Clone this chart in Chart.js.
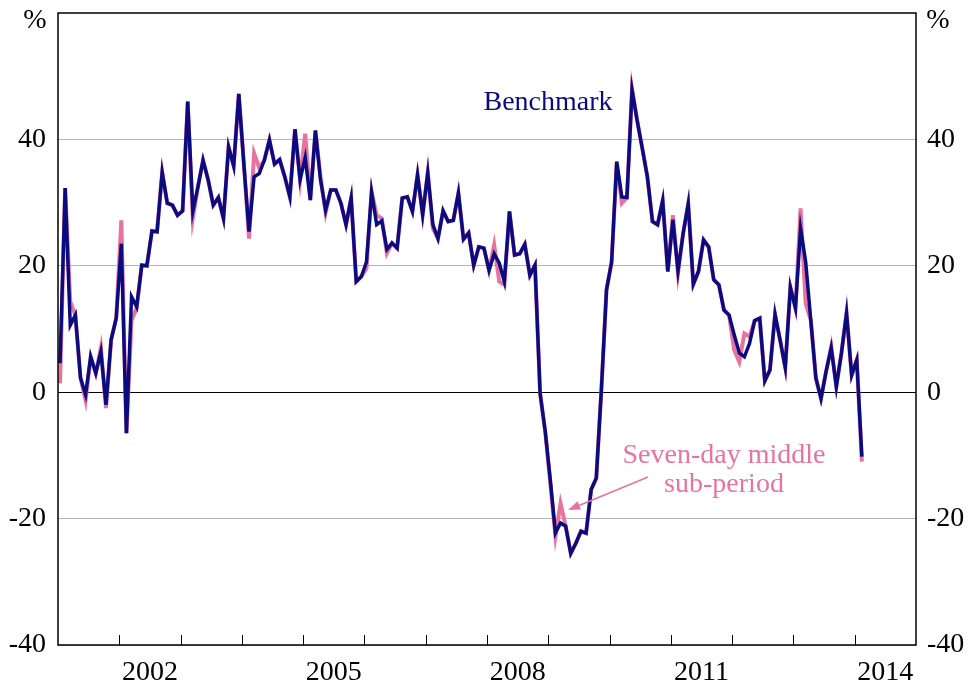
<!DOCTYPE html>
<html>
<head>
<meta charset="utf-8">
<script src="https://cdn.jsdelivr.net/npm/chart.js@4/dist/chart.umd.min.js"></script>
<style>
  html, body { margin: 0; padding: 0; background: #fff; }
  #wrap { width: 971px; height: 686px; }
</style>
</head>
<body>
<div id="wrap"><canvas id="chart" width="971" height="686"></canvas></div>
<script>
// --- DATA ---
// monthly observations, first one is January 2001
const startYear = 2001;

const benchmark = [
  4.6, 32.3, 10.6, 12.2, 2.3, -0.4, 5.6, 3.0, 6.4, -2.0, 8.3, 11.7,
  23.5, -6.5, 15.1, 13.5, 20.1, 20.0, 25.5, 25.4, 34.8, 29.9, 29.6, 28.0,
  28.7, 46.0, 28.6, 32.5, 36.7, 33.6, 29.6, 30.8, 27.5, 38.8, 35.8, 47.2,
  36.0, 25.4, 34.1, 34.6, 36.7, 39.9, 36.1, 36.8, 34.1, 30.9, 41.6, 33.6,
  37.1, 30.4, 41.4, 33.6, 28.8, 32.0, 32.0, 29.9, 26.5, 30.7, 17.5, 18.3,
  20.6, 31.7, 26.5, 27.1, 22.6, 23.6, 22.8, 30.7, 30.9, 28.6, 34.4, 28.1,
  34.7, 26.5, 24.3, 28.7, 27.0, 27.2, 31.5, 24.2, 25.2, 20.1, 23.0, 22.8,
  19.3, 21.9, 20.4, 17.5, 28.6, 21.7, 21.9, 23.4, 18.5, 20.1, -0.2, -6.2,
  -13.9, -22.3, -20.7, -21.2, -25.5, -23.9, -22.0, -22.3, -15.4, -13.6, 0.5, 16.2,
  20.6, 36.5, 30.9, 30.8, 47.8, 43.0, 38.6, 34.1, 27.0, 26.5, 30.3, 19.1,
  27.3, 19.2, 25.1, 29.8, 17.1, 19.1, 24.1, 23.0, 17.8, 17.0, 13.0, 12.2,
  9.1, 6.2, 5.6, 7.7, 11.3, 11.7, 1.8, 3.5, 12.3, 8.2, 3.9, 16.6,
  13.3, 25.9, 20.6, 11.4, 2.2, -1.0, 3.3, 7.0, 0.9, 6.2, 12.5, 2.7,
  5.1, -10.2
];

const sevenDay = [
  1.4, 32.3, 14.3, 12.2, 2.3, -1.3, 5.6, 3.0, 7.0, -2.5, 8.3, 11.7,
  27.2, -6.5, 11.4, 13.3, 20.1, 20.0, 25.5, 25.4, 34.8, 29.9, 29.6, 28.0,
  28.7, 46.0, 27.5, 32.5, 36.7, 33.6, 29.6, 30.8, 27.5, 38.8, 35.8, 47.2,
  36.0, 24.3, 37.8, 35.5, 36.7, 39.9, 36.1, 36.8, 34.1, 30.9, 41.6, 33.6,
  40.9, 30.4, 41.4, 34.1, 28.4, 32.0, 32.0, 29.9, 26.5, 30.7, 17.5, 18.3,
  19.6, 31.7, 28.0, 27.5, 22.0, 23.6, 22.8, 30.7, 30.9, 28.6, 34.4, 28.1,
  34.7, 25.9, 24.3, 28.7, 27.0, 27.2, 31.5, 24.2, 25.2, 20.1, 23.0, 22.8,
  19.3, 23.3, 17.5, 17.0, 28.6, 21.7, 21.9, 23.4, 18.5, 20.1, -0.2, -6.2,
  -14.5, -22.8, -17.6, -21.2, -25.5, -23.9, -22.0, -22.3, -15.4, -13.6, 0.5, 16.2,
  20.6, 36.2, 29.9, 30.8, 48.0, 43.0, 38.6, 34.1, 27.0, 26.5, 30.3, 19.1,
  28.0, 18.8, 25.1, 29.8, 17.1, 19.1, 24.1, 23.0, 17.8, 17.0, 13.0, 12.2,
  6.7, 4.8, 9.3, 8.8, 11.3, 11.7, 1.8, 3.5, 12.3, 8.2, 3.9, 16.6,
  13.3, 29.1, 14.0, 11.4, 2.2, -1.0, 3.3, 7.2, 0.9, 6.2, 12.5, 2.7,
  5.1, -11.0
];

const labelYears = [2002, 2005, 2008, 2011, 2014];
const yearTicks = [2002, 2003, 2004, 2005, 2006, 2007, 2008, 2009, 2010, 2011, 2012, 2013, 2014];
const yTicks = [-40, -20, 0, 20, 40];

const NAVY = '#0b0b80';
const PINK = '#e8739f';
const FONT = "'Liberation Serif', 'Times New Roman', serif";

const toPoints = arr => arr.map((v, i) => ({ x: startYear + (i + 0.4) / 12, y: v }));

// --- PLUGINS ---

const frame = {
    id: 'frame',
    afterDraw(chart) {
        const { ctx, chartArea: a, scales } = chart;
        ctx.save();
        // year tick marks, pointing into the plot
        ctx.strokeStyle = '#000';
        ctx.lineWidth = 1;
        yearTicks.forEach(yr => {
            const x = Math.round(scales.x.getPixelForValue(yr)) + 0.5;
            ctx.beginPath();
            ctx.moveTo(x, a.bottom);
            ctx.lineTo(x, a.bottom - 10);
            ctx.stroke();
        });
        ctx.lineWidth = 1.5;
        ctx.strokeRect(a.left, a.top, a.right - a.left, a.bottom - a.top);

        ctx.font = '28px ' + FONT;
        ctx.fillStyle = '#000';
        ctx.textAlign = 'center';
        ctx.textBaseline = 'alphabetic';
        ctx.fillText('%', 35, 28);
        ctx.fillText('%', 938, 28);

        // series labels
        ctx.fillStyle = NAVY;
        ctx.fillText('Benchmark', 548, 110);
        ctx.fillStyle = PINK;
        ctx.fillText('Seven-day middle', 724, 463);
        ctx.fillText('sub-period', 724, 492);

        // arrow to the pink spike
        const tipX = 568, tipY = 510, fromX = 648, fromY = 477;
        const ang = Math.atan2(tipY - fromY, tipX - fromX);
        ctx.strokeStyle = PINK;
        ctx.lineWidth = 1.5;
        ctx.beginPath();
        ctx.moveTo(fromX, fromY);
        ctx.lineTo(tipX - 8 * Math.cos(ang), tipY - 8 * Math.sin(ang));
        ctx.stroke();
        ctx.beginPath();
        ctx.moveTo(tipX, tipY);
        ctx.lineTo(tipX - 13 * Math.cos(ang - 0.35), tipY - 13 * Math.sin(ang - 0.35));
        ctx.lineTo(tipX - 13 * Math.cos(ang + 0.35), tipY - 13 * Math.sin(ang + 0.35));
        ctx.closePath();
        ctx.fill();
        ctx.restore();
    }
};

// --- CHART ---

const tickFont = { family: FONT, size: 28 };

// fixed axis boxes, no extra label padding
const fitY = w => s => { s.width = w; s.paddingTop = 0; s.paddingBottom = 0; };

new Chart(document.getElementById('chart'), {
    type: 'line',
    data: {
        datasets: [
            { label: 'Benchmark', data: toPoints(benchmark), borderColor: NAVY, borderWidth: 3.5, pointRadius: 0, tension: 0 },
            { label: 'Seven-day middle sub-period', data: toPoints(sevenDay), borderColor: PINK, borderWidth: 4, pointRadius: 0, tension: 0 }
        ]
    },
    options: {
        responsive: false,
        animation: false,
        layout: { padding: { top: 13, left: 0, right: 0, bottom: 0 } },
        plugins: { legend: { display: false }, tooltip: { enabled: false } },
        scales: {
            x: {
                type: 'linear',
                min: 2001,
                max: 2015,
                afterBuildTicks: s => { s.ticks = labelYears.map(y => ({ value: y + 0.5 })); },
                afterFit: s => { s.height = 41; s.paddingLeft = 0; s.paddingRight = 0; },
                grid: { display: false, drawTicks: false },
                border: { display: false },
                ticks: { font: tickFont, color: '#000', padding: 11, maxRotation: 0, autoSkip: false,
                         callback: v => String(Math.floor(v)) }
            },
            y: {
                position: 'left',
                min: -40,
                max: 60,
                afterBuildTicks: s => { s.ticks = yTicks.map(v => ({ value: v })); },
                afterFit: fitY(58),
                grid: {
                    drawTicks: false,
                    lineWidth: 1,
                    color: c => c.tick.value === 0 ? '#000' : '#b4b4b4'
                },
                border: { display: false },
                ticks: { font: tickFont, color: '#000', padding: 12 }
            },
            y2: {
                position: 'right',
                min: -40,
                max: 60,
                afterBuildTicks: s => { s.ticks = yTicks.map(v => ({ value: v })); },
                afterFit: fitY(55),
                grid: { display: false, drawTicks: false },
                border: { display: false },
                ticks: { font: tickFont, color: '#000', padding: 11 }
            }
        }
    },
    plugins: [frame]
});
</script>
</body>
</html>
